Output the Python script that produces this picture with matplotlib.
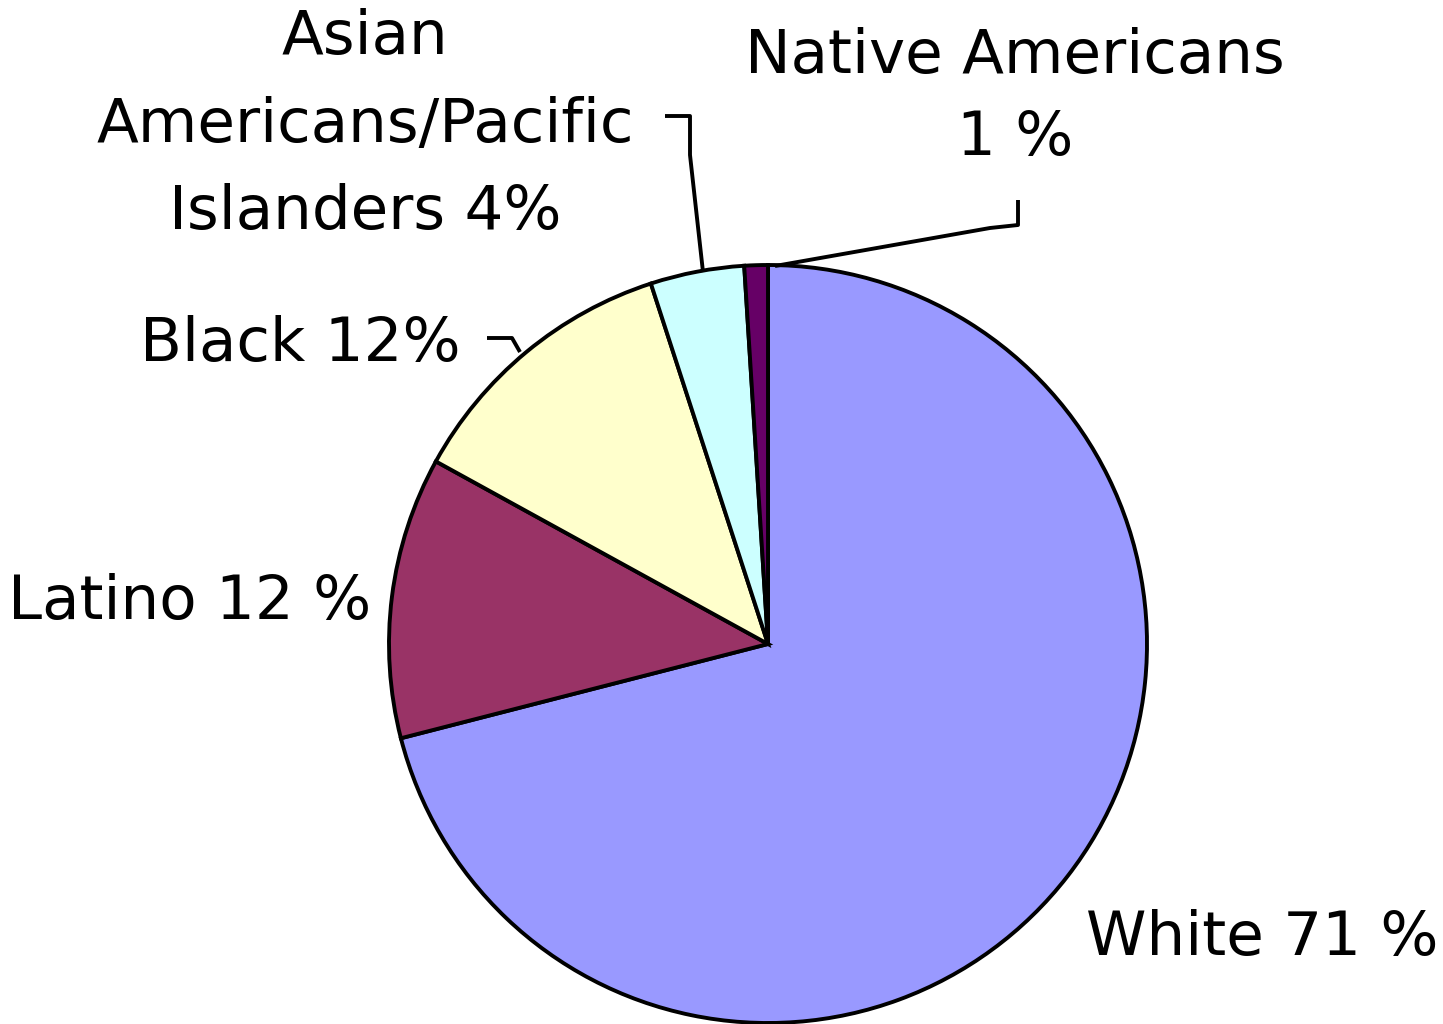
import matplotlib
matplotlib.use("Agg")
import matplotlib.pyplot as plt

categories = ["White", "Latino", "Black", "Asian Americans/Pacific Islanders", "Native Americans"]
values = [71, 12, 12, 4, 1]
colors = ["#9999FF", "#993366", "#FFFFCC", "#CCFFFF", "#660066"]
label_texts = ["White 71 %", "Latino 12 %", "Black 12%", "Asian\nAmericans/Pacific\nIslanders 4%", "Native Americans\n1 %"]

W, H = 1443, 1024
fig = plt.figure(figsize=(W / 100, H / 100), dpi=100)
ax = fig.add_axes([0, 0, 1, 1])

cx, cy, r = 768, H - 644, 379
ax.pie(values, colors=colors, startangle=90, counterclock=False,
       center=(cx, cy), radius=r, frame=True,
       wedgeprops=dict(edgecolor="black", linewidth=2.8))
ax.set_xlim(0, W)
ax.set_ylim(0, H)
ax.set_aspect("equal")
ax.axis("off")

fs = 44
font = dict(fontsize=fs, family="DejaVu Sans", color="black")
# label positions (pixel coordinates, y from top)
pos = [(1262, 938, 1.2), (190, 603, 1.2), (300, 345, 1.2),
       (365, 125, 1.62), (1015, 97, 1.5)]
for (x, y, ls), t in zip(pos, label_texts):
    ax.text(x, H - y, t, ha="center", va="center", linespacing=ls, **font)

def leader(pts):
    xs = [p[0] for p in pts]
    ys = [H - p[1] for p in pts]
    ax.plot(xs, ys, color="black", lw=2.8, solid_capstyle="butt")

leader([(665, 116), (690, 116), (690, 155), (703, 272)])
leader([(1018, 200), (1018, 225), (990, 228), (775, 266)])
leader([(487, 338), (512, 338), (520, 352)])

fig.savefig("out.png", dpi=100)
